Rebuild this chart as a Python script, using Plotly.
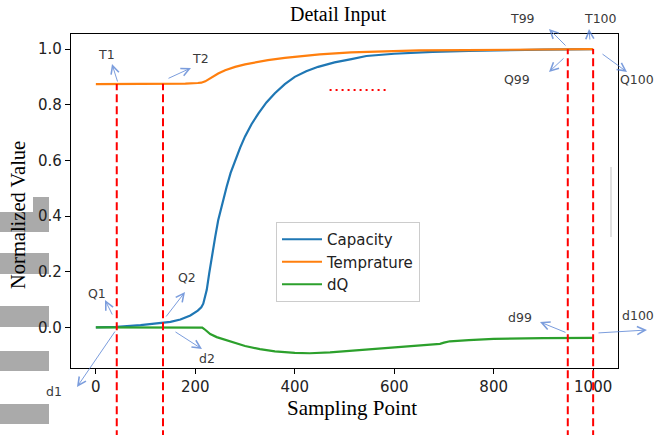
import numpy as np
import plotly.graph_objects as go

# ---------------- data ----------------
cap_x = [0, 42, 90, 135, 150, 170, 190, 205, 212, 216, 219, 223, 228, 233, 240, 246, 254, 263, 271, 280,
         290, 300, 313, 327, 343, 360, 380, 400, 423, 447, 480, 514, 544, 600, 677, 750, 811, 900, 1000]
cap_y = [0.0, 0.002, 0.008, 0.016, 0.02, 0.028, 0.043, 0.06, 0.072, 0.085, 0.105, 0.135, 0.195, 0.253, 0.325,
         0.385, 0.445, 0.505, 0.555, 0.60, 0.645, 0.686, 0.73, 0.769, 0.808, 0.841, 0.874, 0.90, 0.92, 0.936,
         0.952, 0.964, 0.975, 0.983, 0.99, 0.993, 0.996, 0.998, 1.0]

temp_x = [0, 50, 100, 150, 180, 205, 212, 220, 230, 246, 260, 280, 300, 320, 346, 380, 413, 450, 513, 543,
          600, 650, 744, 800, 900, 1000]
temp_y = [0.874, 0.874, 0.875, 0.875, 0.876, 0.878, 0.879, 0.884, 0.896, 0.912, 0.924, 0.936, 0.945, 0.952,
          0.96, 0.968, 0.975, 0.981, 0.988, 0.99, 0.993, 0.995, 0.996, 0.997, 0.998, 1.0]

dq_x = [0, 100, 200, 214, 218, 222, 230, 243, 260, 280, 300, 330, 360, 400, 430, 471, 500, 550, 600, 650,
        692, 700, 712, 750, 800, 900, 1000]
dq_y = [0.0, 0.0, 0.0, -0.001, -0.006, -0.012, -0.024, -0.035, -0.045, -0.056, -0.067, -0.078, -0.086, -0.092,
        -0.093, -0.090, -0.086, -0.078, -0.071, -0.065, -0.059, -0.055, -0.05, -0.046, -0.041, -0.039, -0.038]

series_names = ["Capacity", "Temprature", "dQ"]
series_colors = ["#1f77b4", "#ff7f0e", "#2ca02c"]

marker_points = [42, 135, 949, 1000]          # red dashed sampling points
dotted_x = [470, 584]                          # red dotted segment
dotted_y = 0.853

x_ticks = [0, 200, 400, 600, 800, 1000]
y_ticks = [0.0, 0.2, 0.4, 0.6, 0.8, 1.0]
x_range = [-50, 1050]
y_range = [-0.146, 1.054]

labels = [  # text, label center px, arrow tail px, arrow head px
    ("T1", (106, 54), (118, 83), (112, 64)),
    ("T2", (200, 59), (167, 79), (191, 68)),
    ("T99", (522, 18), (567, 47), (549, 29)),
    ("T100", (600, 18), (590, 41), (589, 29)),
    ("Q99", (517, 79), (565, 57), (549, 72)),
    ("Q100", (637, 79), (601, 53), (627, 72)),
    ("d99", (520, 317), (567, 333), (540, 322)),
    ("d100", (640, 315), (597, 333), (647, 330)),
    ("Q1", (97, 293), (113, 316), (105, 300)),
    ("Q2", (187, 277), (165, 318), (185, 292)),
    ("d1", (54, 392), (116, 330), (77, 387)),
    ("d2", (207, 358), (174, 331), (202, 349)),
]

# ---------------- layout geometry ----------------
W, H = 657, 435
PL, PT, PW, PH = 71, 34, 547, 334


def px_x(px):
    return (px - PL) / PW


def px_y(py):
    return (PT + PH - py) / PH


fig = go.Figure()
for xs, ys, name, col in [(cap_x, cap_y, series_names[0], series_colors[0]),
                          (temp_x, temp_y, series_names[1], series_colors[1]),
                          (dq_x, dq_y, series_names[2], series_colors[2])]:
    fig.add_trace(go.Scatter(x=xs, y=ys, mode="lines", name=name,
                             line=dict(color=col, width=2.2)))

shapes = []
# gray artefact blocks on the left
for (x0, y0, x1, y1) in [(0, 212, 49, 232), (33, 197, 49, 212), (0, 253, 49, 274),
                         (0, 306, 49, 327), (0, 351, 49, 371), (0, 404, 49, 424)]:
    shapes.append(dict(type="rect", xref="paper", yref="paper", layer="below",
                       x0=px_x(x0), x1=px_x(x1), y0=px_y(y1), y1=px_y(y0),
                       line=dict(width=0), fillcolor="#aaaaaa"))
# thin light gray vertical line
shapes.append(dict(type="line", xref="paper", yref="paper", x0=px_x(611), x1=px_x(611),
                   y0=px_y(237), y1=px_y(167), line=dict(color="#e2e2e2", width=2)))

# red dashed vertical lines from temperature curve down past the axis
for xv in marker_points:
    top = float(np.interp(xv, temp_x, temp_y))
    top_paper = (top - y_range[0]) / (y_range[1] - y_range[0])
    shapes.append(dict(type="line", xref="x", yref="paper", x0=xv, x1=xv,
                       y0=-0.21, y1=top_paper, layer="above",
                       line=dict(color="red", width=2, dash="8px,4px")))
# red dotted horizontal
shapes.append(dict(type="line", xref="x", yref="y", x0=dotted_x[0], x1=dotted_x[1],
                   y0=dotted_y, y1=dotted_y, line=dict(color="red", width=2, dash="2px,4px")))

annotations = []
arrow_col = "rgba(80,125,210,0.75)"
for text, (lx, ly), (tx, ty), (hx, hy) in labels:
    annotations.append(dict(xref="paper", yref="paper", x=px_x(hx), y=px_y(hy),
                            ax=tx - hx, ay=ty - hy, axref="pixel", ayref="pixel",
                            text="", showarrow=True, arrowhead=5, arrowsize=1.6,
                            arrowwidth=1, arrowcolor=arrow_col, standoff=0, startstandoff=0))
    if text == "d100":
        annotations.append(dict(xref="paper", yref="paper", x=px_x(656), y=px_y(ly), text=text,
                                showarrow=False, xanchor="right", yanchor="middle",
                                font=dict(family="DejaVu Sans", size=12.5, color="#3a3a3a")))
    else:
        annotations.append(dict(xref="paper", yref="paper", x=px_x(lx), y=px_y(ly), text=text,
                                showarrow=False, xanchor="center", yanchor="middle",
                                font=dict(family="DejaVu Sans", size=12.5, color="#3a3a3a")))

# axis titles
annotations.append(dict(xref="paper", yref="paper", x=px_x(352), y=px_y(408), text="Sampling Point",
                        showarrow=False, xanchor="center", yanchor="middle",
                        font=dict(family="Liberation Serif", size=21, color="black")))
annotations.append(dict(xref="paper", yref="paper", x=px_x(18), y=px_y(215), text="Normalized Value",
                        showarrow=False, xanchor="center", yanchor="middle", textangle=-90,
                        font=dict(family="Liberation Serif", size=20.5, color="black")))

fig.update_layout(
    width=W, height=H,
    margin=dict(l=PL, r=W - PL - PW, t=PT, b=H - PT - PH),
    paper_bgcolor="white", plot_bgcolor="white",
    title=dict(text="Detail Input", xref="container", yref="container",
               x=338 / W, y=1 - 14 / H, xanchor="center", yanchor="middle",
               font=dict(family="Liberation Serif", size=20, color="black")),
    shapes=shapes, annotations=annotations,
    legend=dict(x=px_x(276), y=px_y(222), xanchor="left", yanchor="top",
                bgcolor="rgba(255,255,255,0.85)", bordercolor="#cccccc", borderwidth=1,
                font=dict(family="DejaVu Sans", size=15, color="#222"),
                itemwidth=40, tracegroupgap=0),
    showlegend=True,
)
fig.update_xaxes(range=x_range, tickvals=x_ticks, showgrid=False, zeroline=False,
                 showline=True, linecolor="black", linewidth=1.2, mirror=True,
                 ticks="outside", ticklen=5, tickwidth=1.2, tickcolor="black",
                 tickfont=dict(family="DejaVu Sans", size=15, color="#222"))
fig.update_yaxes(range=y_range, tickvals=y_ticks, tickformat=".1f", showgrid=False, zeroline=False,
                 showline=True, linecolor="black", linewidth=1.2, mirror=True,
                 ticks="outside", ticklen=5, tickwidth=1.2, tickcolor="black",
                 tickfont=dict(family="DejaVu Sans", size=15, color="#222"))

fig.write_html("out.html", config={"displayModeBar": False},
               post_script="document.body.style.margin='0';document.body.style.padding='0';"
                           "document.body.style.overflow='hidden';")
